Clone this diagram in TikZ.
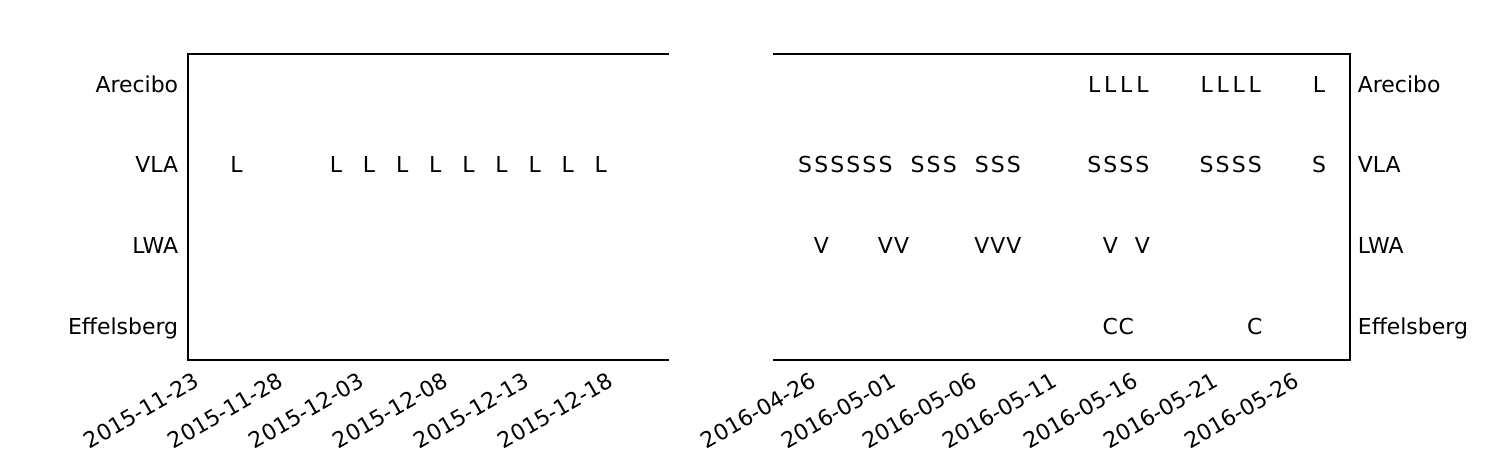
\documentclass[tikz,border=0pt]{standalone}
\usepackage{fontspec}
\setmainfont{DejaVu Sans}
\usepackage{tikz}

\begin{document}
\begin{tikzpicture}[x  = 0.02cm,
                    y  = -0.02cm,
                    font = \fontsize{12.5}{15}\selectfont]

  \useasboundingbox (0, 0) rectangle (1500, 450);


  % DEF POINTS
  \coordinate (v0_l) at (668, 54);
  \coordinate (v1_l) at (188, 54);
  \coordinate (v2_l) at (188, 360);
  \coordinate (v3_l) at (668, 360);
  \coordinate (v0_r) at (774, 54);
  \coordinate (v1_r) at (1350, 54);
  \coordinate (v2_r) at (1350, 360);
  \coordinate (v3_r) at (774, 360);


  % EDGES STYLE
  \tikzstyle{framestyle} = [draw=black, line width=0.6pt, line cap=rect, line join=miter]
  \tikzstyle{rowlabel_l} = [anchor=base east, inner sep=0pt]
  \tikzstyle{rowlabel_r} = [anchor=base west, inner sep=0pt]
  \tikzstyle{datelabel} = [anchor=north east, rotate=30, inner sep=0pt]
  \tikzstyle{obsmark} = [anchor=base, inner sep=0pt]


  % FRAMES
  \draw[framestyle] (v0_l) -- (v1_l) -- (v2_l) -- (v3_l);
  \draw[framestyle] (v0_r) -- (v1_r) -- (v2_r) -- (v3_r);


  % ROW LABELS
  \node[rowlabel_l] (arecibo_l) at (178.5, 92.3) {Arecibo};
  \node[rowlabel_l] (vla_l) at (178.5, 172.9) {VLA};
  \node[rowlabel_l] (lwa_l) at (178.5, 253.5) {LWA};
  \node[rowlabel_l] (effelsberg_l) at (178.5, 334.1) {Effelsberg};

  \node[rowlabel_r] (arecibo_r) at (1357.5, 92.3) {Arecibo};
  \node[rowlabel_r] (vla_r) at (1357.5, 172.9) {VLA};
  \node[rowlabel_r] (lwa_r) at (1357.5, 253.5) {LWA};
  \node[rowlabel_r] (effelsberg_r) at (1357.5, 334.1) {Effelsberg};


  % DATES
  \node[datelabel] (d0_l) at (192.5, 371) {2015-11-23};
  \node[datelabel] (d1_l) at (276.5, 371) {2015-11-28};
  \node[datelabel] (d2_l) at (357.5, 371) {2015-12-03};
  \node[datelabel] (d3_l) at (441.5, 371) {2015-12-08};
  \node[datelabel] (d4_l) at (522.5, 371) {2015-12-13};
  \node[datelabel] (d5_l) at (606.5, 371) {2015-12-18};

  \node[datelabel] (d0_r) at (809.5, 371) {2016-04-26};
  \node[datelabel] (d1_r) at (890, 371) {2016-05-01};
  \node[datelabel] (d2_r) at (970.5, 371) {2016-05-06};
  \node[datelabel] (d3_r) at (1051, 371) {2016-05-11};
  \node[datelabel] (d4_r) at (1131.5, 371) {2016-05-16};
  \node[datelabel] (d5_r) at (1212, 371) {2016-05-21};
  \node[datelabel] (d6_r) at (1292.5, 371) {2016-05-26};


  % OBSERVATIONS 2015 (x in days)
  \begin{scope}[shift={(236.6, 0)}, x = 0.3312cm]
    \node[obsmark] (vla_l0) at (0, 172.9) {L};
    \node[obsmark] (vla_l1) at (6, 172.9) {L};
    \node[obsmark] (vla_l2) at (8, 172.9) {L};
    \node[obsmark] (vla_l3) at (10, 172.9) {L};
    \node[obsmark] (vla_l4) at (12, 172.9) {L};
    \node[obsmark] (vla_l5) at (14, 172.9) {L};
    \node[obsmark] (vla_l6) at (16, 172.9) {L};
    \node[obsmark] (vla_l7) at (18, 172.9) {L};
    \node[obsmark] (vla_l8) at (20, 172.9) {L};
    \node[obsmark] (vla_l9) at (22, 172.9) {L};
  \end{scope}


  % OBSERVATIONS 2016 (x in days)
  \begin{scope}[shift={(805.2, 0)}, x = 0.3212cm]
    % Arecibo
    \node[obsmark] (arecibo_r0) at (18, 92.3) {L};
    \node[obsmark] (arecibo_r1) at (19, 92.3) {L};
    \node[obsmark] (arecibo_r2) at (20, 92.3) {L};
    \node[obsmark] (arecibo_r3) at (21, 92.3) {L};
    \node[obsmark] (arecibo_r4) at (25, 92.3) {L};
    \node[obsmark] (arecibo_r5) at (26, 92.3) {L};
    \node[obsmark] (arecibo_r6) at (27, 92.3) {L};
    \node[obsmark] (arecibo_r7) at (28, 92.3) {L};
    \node[obsmark] (arecibo_r8) at (32, 92.3) {L};

    % VLA
    \node[obsmark] (vla_r0) at (0, 172.9) {S};
    \node[obsmark] (vla_r1) at (1, 172.9) {S};
    \node[obsmark] (vla_r2) at (2, 172.9) {S};
    \node[obsmark] (vla_r3) at (3, 172.9) {S};
    \node[obsmark] (vla_r4) at (4, 172.9) {S};
    \node[obsmark] (vla_r5) at (5, 172.9) {S};
    \node[obsmark] (vla_r6) at (7, 172.9) {S};
    \node[obsmark] (vla_r7) at (8, 172.9) {S};
    \node[obsmark] (vla_r8) at (9, 172.9) {S};
    \node[obsmark] (vla_r9) at (11, 172.9) {S};
    \node[obsmark] (vla_r10) at (12, 172.9) {S};
    \node[obsmark] (vla_r11) at (13, 172.9) {S};
    \node[obsmark] (vla_r12) at (18, 172.9) {S};
    \node[obsmark] (vla_r13) at (19, 172.9) {S};
    \node[obsmark] (vla_r14) at (20, 172.9) {S};
    \node[obsmark] (vla_r15) at (21, 172.9) {S};
    \node[obsmark] (vla_r16) at (25, 172.9) {S};
    \node[obsmark] (vla_r17) at (26, 172.9) {S};
    \node[obsmark] (vla_r18) at (27, 172.9) {S};
    \node[obsmark] (vla_r19) at (28, 172.9) {S};
    \node[obsmark] (vla_r20) at (32, 172.9) {S};

    % LWA
    \node[obsmark] (lwa_r0) at (1, 253.5) {V};
    \node[obsmark] (lwa_r1) at (5, 253.5) {V};
    \node[obsmark] (lwa_r2) at (6, 253.5) {V};
    \node[obsmark] (lwa_r3) at (11, 253.5) {V};
    \node[obsmark] (lwa_r4) at (12, 253.5) {V};
    \node[obsmark] (lwa_r5) at (13, 253.5) {V};
    \node[obsmark] (lwa_r6) at (19, 253.5) {V};
    \node[obsmark] (lwa_r7) at (21, 253.5) {V};

    % Effelsberg
    \node[obsmark] (effelsberg_r0) at (19, 334.1) {C};
    \node[obsmark] (effelsberg_r1) at (20, 334.1) {C};
    \node[obsmark] (effelsberg_r2) at (28, 334.1) {C};
  \end{scope}

\end{tikzpicture}
\end{document}
